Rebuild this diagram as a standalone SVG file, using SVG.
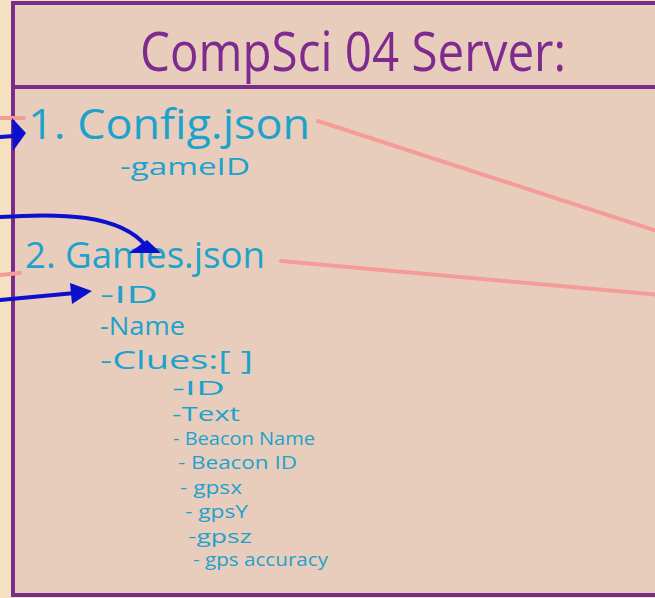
<svg xmlns="http://www.w3.org/2000/svg" width="655" height="598" viewBox="0 0 655 598">
  <style>
    .frame { fill: #e9cdbc; stroke: #7a2c8c; stroke-width: 4; }
    .divider { stroke: #7a2c8c; stroke-width: 4; }
    .title { font-family: "Open Sans", "Noto Sans", sans-serif; fill: #7f2a8f; font-size: 54px; }
    .file { font-family: "Open Sans", "Noto Sans", sans-serif; fill: #1da2cc; }
    .h1 { font-size: 42px; }
    .h2 { font-size: 36px; }
    .link { stroke: #f59c98; stroke-width: 4; fill: none; stroke-linecap: round; }
    .ref { stroke: #0b10cc; stroke-width: 4; fill: none; stroke-linecap: round; }
    .head { fill: #0b10cc; }
  </style>

  <!-- page background and server panel -->
  <rect x="0" y="0" width="655" height="598" fill="#f5e0c0"/>
  <rect class="frame" x="13" y="3" width="660" height="592"/>
  <line class="divider" x1="13" y1="87" x2="655" y2="87"/>

  <g id="title">
    <text class="title" x="140" y="71" textLength="426" lengthAdjust="spacingAndGlyphs">CompSci 04 Server:</text>
  </g>

  <g id="config-json">
    <text class="file h1" x="28" y="139" textLength="282" lengthAdjust="spacingAndGlyphs">1. Config.json</text>
    <text class="file" x="120" y="175" font-size="24" textLength="130" lengthAdjust="spacingAndGlyphs">-gameID</text>
  </g>

  <g id="games-json">
    <text class="file h2" x="25" y="268" textLength="240" lengthAdjust="spacingAndGlyphs">2. Games.json</text>
    <text class="file" x="100" y="303" font-size="24" textLength="58" lengthAdjust="spacingAndGlyphs">-ID</text>
    <text class="file" x="100" y="335" font-size="25" textLength="85" lengthAdjust="spacingAndGlyphs">-Name</text>
    <text class="file" x="100" y="369" font-size="25" textLength="153" lengthAdjust="spacingAndGlyphs">-Clues:[ ]</text>
  </g>

  <g id="clue-fields">
    <text class="file" x="172" y="395" font-size="20" textLength="53" lengthAdjust="spacingAndGlyphs">-ID</text>
    <text class="file" x="172" y="421" font-size="20" textLength="68" lengthAdjust="spacingAndGlyphs">-Text</text>
    <text class="file" x="173" y="445" font-size="18" textLength="142" lengthAdjust="spacingAndGlyphs">- Beacon Name</text>
    <text class="file" x="178" y="469" font-size="18" textLength="119" lengthAdjust="spacingAndGlyphs">- Beacon ID</text>
    <text class="file" x="180" y="494" font-size="18" textLength="62" lengthAdjust="spacingAndGlyphs">- gpsx</text>
    <text class="file" x="185" y="518" font-size="19" textLength="63" lengthAdjust="spacingAndGlyphs">- gpsY</text>
    <text class="file" x="188" y="543" font-size="19" textLength="64" lengthAdjust="spacingAndGlyphs">-gpsz</text>
    <text class="file" x="193" y="566" font-size="18" textLength="135" lengthAdjust="spacingAndGlyphs">- gps accuracy</text>
  </g>

  <g id="connectors">
    <!-- pink links leaving the panel -->
    <line class="link" x1="318" y1="121" x2="660" y2="232"/>
    <line class="link" x1="281" y1="261" x2="660" y2="295"/>
    <line class="link" x1="0" y1="118" x2="24" y2="118"/>
    <line class="link" x1="0" y1="275" x2="20" y2="273"/>

    <!-- blue references -->
    <line class="ref" x1="0" y1="137" x2="14" y2="136"/>
    <polygon class="head" points="12,118 26,133 13,151"/>

    <path class="ref" d="M0,217 C60,213 120,214 146,246"/>
    <polygon class="head" points="129,253 161,253 147,240"/>

    <line class="ref" x1="0" y1="300" x2="75" y2="293"/>
    <polygon class="head" points="70,283 92,291 72,304"/>
  </g>
</svg>
